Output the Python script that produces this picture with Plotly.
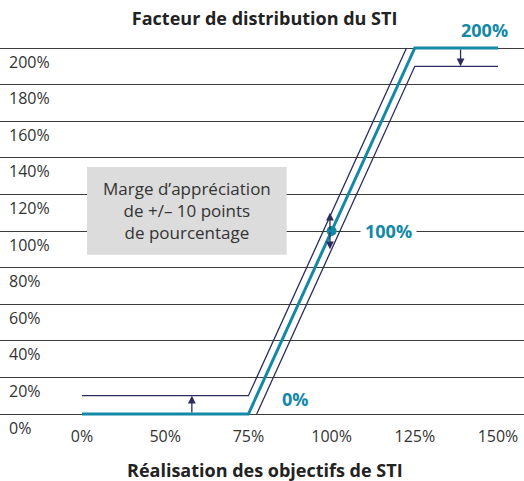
import plotly.graph_objects as go

# x positions are ordinal (equal spacing) for the achievement levels
x_labels = ["0%", "50%", "75%", "100%", "125%", "150%"]
x_pos = [0, 1, 2, 3, 4, 5]

y_ticks = [0, 20, 40, 60, 80, 100, 120, 140, 160, 180, 200]
y_labels = ["0%", "20%", "40%", "60%", "80%", "100%", "120%", "140%", "160%", "180%", "200%"]

# payout curve
payout_x = [0, 2, 4, 5]
payout_y = [0, 0, 200, 200]

# +10 points margin curve
upper_x = [0, 2, 3.9]
upper_y = [10, 10, 200]

# -10 points margin curve
lower_x = [2.1, 4, 5]
lower_y = [0, 190, 190]

TEAL = "#1389a7"
NAVY = "#2b2d5c"
GRID = "#3c3c3c"
TXT = "#333333"
FONT = "Open Sans"

fig = go.Figure()
fig.add_trace(go.Scatter(x=upper_x, y=upper_y, mode="lines",
                         line=dict(color=NAVY, width=1.3), hoverinfo="skip"))
fig.add_trace(go.Scatter(x=lower_x, y=lower_y, mode="lines",
                         line=dict(color=NAVY, width=1.3), hoverinfo="skip"))
fig.add_trace(go.Scatter(x=payout_x, y=payout_y, mode="lines",
                         line=dict(color=TEAL, width=3), hoverinfo="skip"))
fig.add_trace(go.Scatter(x=[3], y=[100], mode="markers",
                         marker=dict(color=TEAL, size=10), hoverinfo="skip"))

# margin box
fig.add_shape(type="rect", x0=0.06, x1=2.46, y0=87, y1=135,
              fillcolor="#dcdcdc", line=dict(width=0), layer="above")
fig.add_annotation(x=1.26, y=111, text="Marge d’appréciation<br>de +/– 10 points<br>de pourcentage",
                   showarrow=False, font=dict(family=FONT, size=17, color=TXT),
                   align="center")

# arrows (tail at curve, head at margin)
arrows = [(1.32, 0, 10), (4.55, 200, 190), (2.98, 100, 110), (2.98, 100, 90)]
for ax_, y0, y1 in arrows:
    fig.add_annotation(x=ax_, y=y1, ax=ax_, ay=y0, axref="x", ayref="y",
                       xref="x", yref="y", text="", showarrow=True,
                       arrowhead=2, arrowsize=1.2, arrowwidth=1.3, arrowcolor=NAVY)

# curve level labels
for lx, ly, lt, bg, ys in [(4.84, 200, "200%", None, 18), (3.68, 100, "100%", "white", 0),
                           (2.57, 8, "0%", None, 0)]:
    fig.add_annotation(x=lx, y=ly, yshift=ys, text="<b>" + lt + "</b>", showarrow=False,
                       font=dict(family=FONT, size=18, color=TEAL),
                       bgcolor=bg if bg else "rgba(0,0,0,0)", borderpad=4)

# x axis title
fig.add_annotation(x=0.505, y=0, xref="paper", yref="paper", yshift=-20, yanchor="middle",
                   text="<b>Réalisation des objectifs de STI</b>", showarrow=False,
                   font=dict(family=FONT, size=18, color="#222"))

fig.update_layout(
    width=524, height=481,
    margin=dict(l=0, r=0, t=40, b=31),
    plot_bgcolor="white", paper_bgcolor="white",
    showlegend=False,
    title=dict(text="<b>Facteur de distribution du STI</b>", x=0.505, xanchor="center",
               y=0.962, yanchor="middle", font=dict(family=FONT, size=18, color="#222")),
    xaxis=dict(range=[-0.986, 5.3125], tickvals=x_pos, ticktext=x_labels,
               showgrid=False, zeroline=False, showline=False, ticks="", automargin=False,
               ticklabelposition="inside", ticklabelstandoff=2,
               tickfont=dict(family=FONT, size=16, color=TXT)),
    yaxis=dict(range=[-19.67, 204.37], tickvals=y_ticks, ticktext=y_labels,
               showgrid=True, gridcolor=GRID, gridwidth=1, zeroline=False, automargin=False,
               showline=False, ticks="", ticklabelposition="inside",
               ticklabelshift=14, ticklabelstandoff=6,
               tickfont=dict(family=FONT, size=16, color=TXT)),
)

fig.write_html("out.html", config={"displayModeBar": False},
               post_script="document.body.style.margin='0';")
